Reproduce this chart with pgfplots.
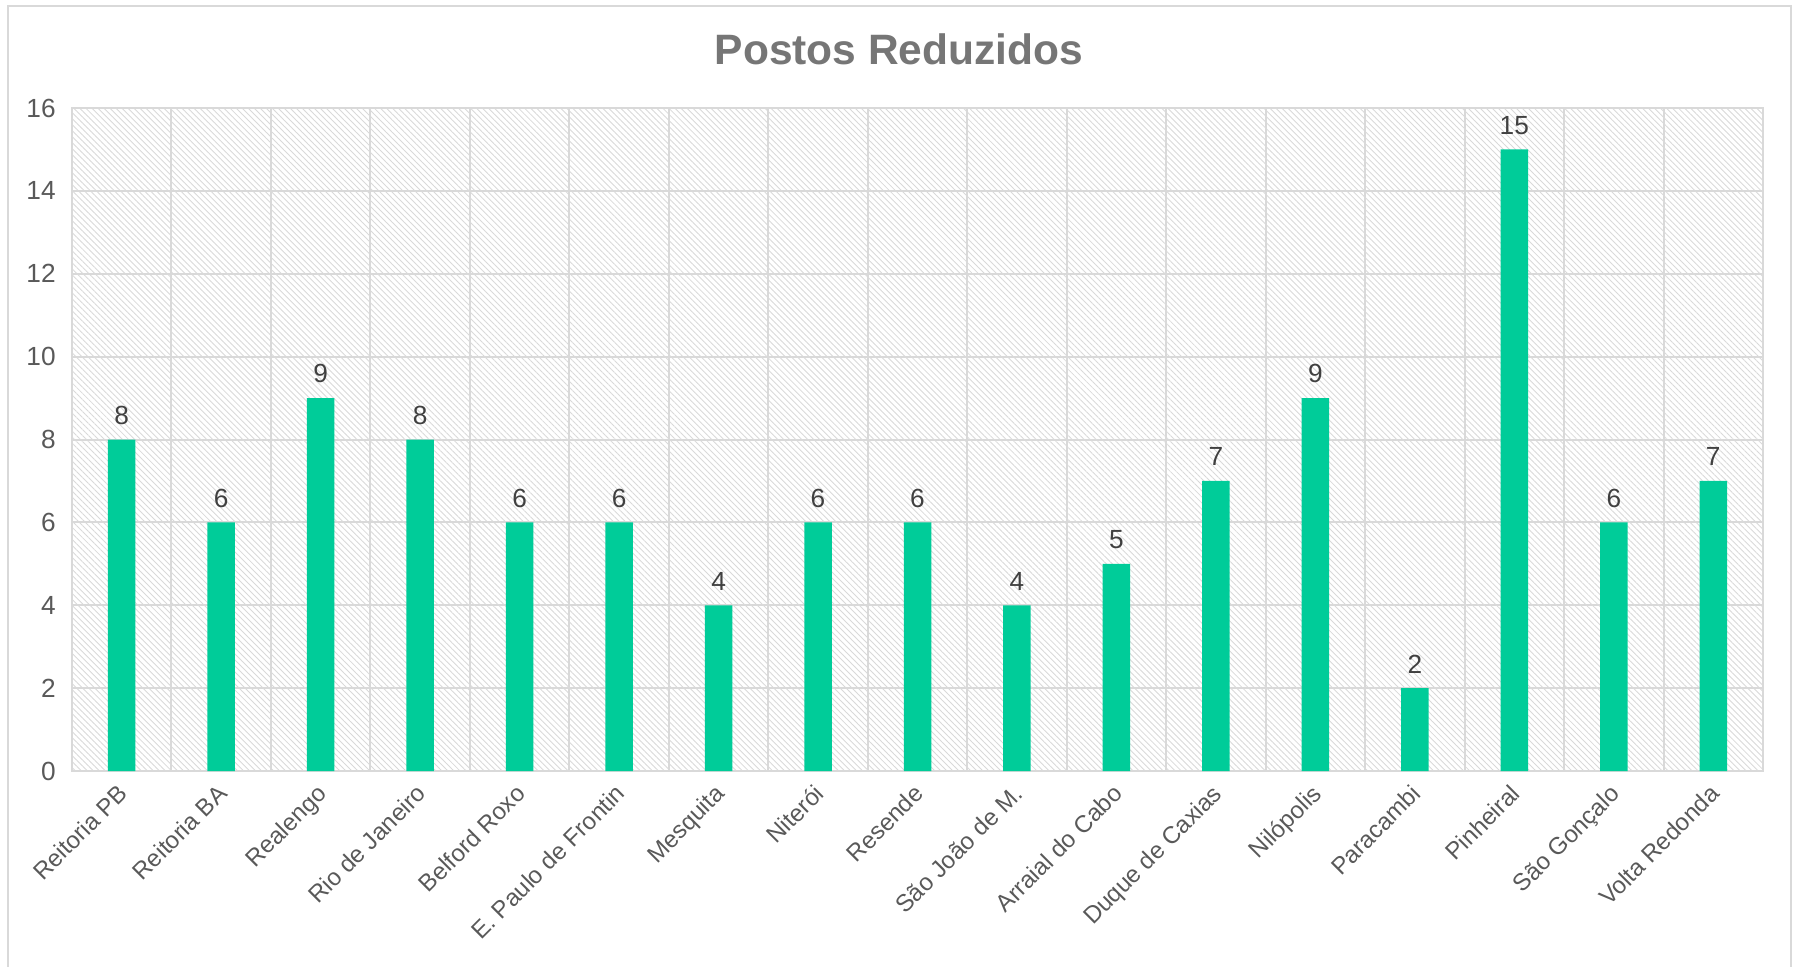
\documentclass[border=0pt]{standalone}
\usepackage{fontspec}
\setmainfont{Liberation Sans}
\usepackage{pgfplots}
\pgfplotsset{compat=1.18}
\usetikzlibrary{patterns.meta}

\definecolor{barcol}{RGB}{0,204,153}
\definecolor{gridcol}{RGB}{217,217,217}
\definecolor{tickcol}{RGB}{89,89,89}
\definecolor{labcol}{RGB}{64,64,64}
\definecolor{titlecol}{RGB}{118,118,118}

\begin{document}
\begin{tikzpicture}
\useasboundingbox (-28.8pt,-78pt) rectangle (691.2pt,308.4pt);
\draw[gridcol, line width=0.6pt] (-25.6pt,-100pt) -- (-25.6pt,306pt) -- (687.6pt,306pt) -- (687.6pt,-100pt);
\begin{axis}[
    at={(0,0)}, anchor=south west,
    scale only axis,
    width=676.4pt,
    height=265.2pt,
    ybar,
    bar width=11pt,
    xmin=-0.5, xmax=16.5,
    ymin=0, ymax=16,
    ytick={0,2,...,16},
    xtick=data,
    xticklabels={Reitoria PB, Reitoria BA, Realengo, Rio de Janeiro, Belford Roxo, E. Paulo de Frontin, Mesquita, Niterói, Resende, São João de M., Arraial do Cabo, Duque de Caxias, Nilópolis, Paracambi, Pinheiral, São Gonçalo, Volta Redonda},
    minor xtick={0.5,1.5,...,15.5},
    xminorgrids=true,
    ymajorgrids=true,
    major tick length=0pt,
    minor tick length=0pt,
    axis line style={gridcol, line width=0.8pt},
    grid style={gridcol, line width=0.8pt},
    minor grid style={gridcol, line width=0.8pt},
    axis background/.style={pattern={Lines[angle=-45,distance=1.7pt,line width=0.35pt]}, pattern color=black!15},
    /pgf/number format/assume math mode=true,
    yticklabel style={font=\fontsize{10.5}{12}\selectfont, text=tickcol, xshift=-3pt},
    xticklabel style={xshift=-2pt, yshift=-4.6pt, font=\fontsize{9.6}{11}\selectfont, text=tickcol, rotate=45, anchor=north east, inner sep=0pt},
    title={Postos Reduzidos},
    title style={at={(0.489,1)}, anchor=center, yshift=17.6pt, font=\fontsize{17}{20}\selectfont\bfseries, text=titlecol},
    nodes near coords,
    every node near coord/.append style={font=\fontsize{10.5}{12}\selectfont, text=labcol, yshift=2.5pt},
]
\addplot[fill=barcol, draw=none] coordinates {
    (0,8) (1,6) (2,9) (3,8) (4,6) (5,6) (6,4) (7,6) (8,6)
    (9,4) (10,5) (11,7) (12,9) (13,2) (14,15) (15,6) (16,7)
};
\end{axis}
\end{tikzpicture}
\end{document}
